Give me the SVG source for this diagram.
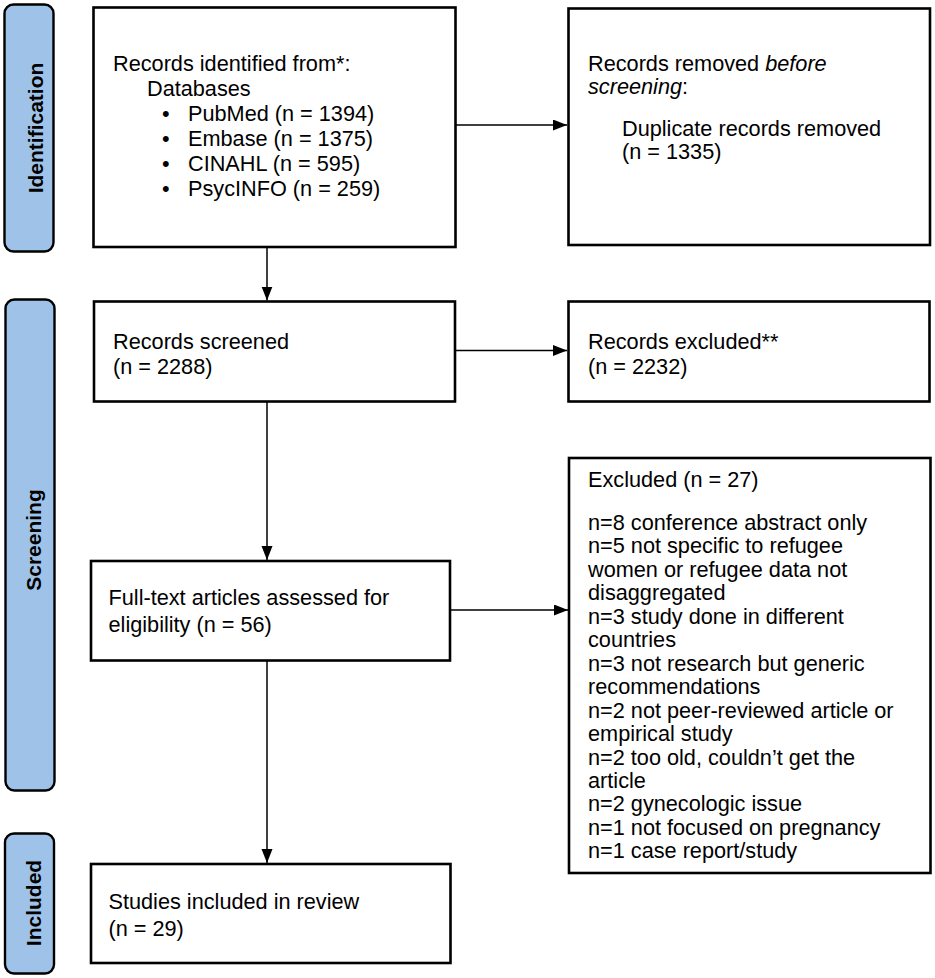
<svg xmlns="http://www.w3.org/2000/svg" width="935" height="978" viewBox="0 0 935 978">
<style>
.box{fill:#fff;stroke:#000;stroke-width:2.6}
.bar{fill:#9fc3e8;stroke:#000;stroke-width:2.4}
.t{font-family:"Liberation Sans",Arial,sans-serif;font-size:21.7px;fill:#000}
.bt{font-family:"Liberation Sans",Arial,sans-serif;font-size:21px;font-weight:bold;fill:#000;text-anchor:middle}
.c{stroke:#000;stroke-width:1.5;fill:none}
</style>
<defs>
<marker id="ah" markerUnits="userSpaceOnUse" markerWidth="15" markerHeight="12" refX="14" refY="5.5" orient="auto">
<path d="M0,0 L14,5.5 L0,11 Z" fill="#000"/>
</marker>
</defs>
<rect width="935" height="978" fill="#fff"/>
<g id="bar-identification">
<rect class="bar" x="4.5" y="4.5" width="49" height="247" rx="9"/>
<text class="bt" transform="translate(43,128) rotate(-90)">Identification</text>
</g>
<g id="bar-screening">
<rect class="bar" x="5.5" y="299.5" width="49" height="491" rx="9"/>
<text class="bt" transform="translate(41,540) rotate(-90)">Screening</text>
</g>
<g id="bar-included">
<rect class="bar" x="5" y="833.5" width="49" height="140" rx="9"/>
<text class="bt" transform="translate(41,903) rotate(-90)">Included</text>
</g>
<g id="connectors">
<line class="c" x1="456" y1="125" x2="567" y2="125" marker-end="url(#ah)"/>
<line class="c" x1="455" y1="350.5" x2="567" y2="350.5" marker-end="url(#ah)"/>
<line class="c" x1="450" y1="610" x2="568" y2="610" marker-end="url(#ah)"/>
<line class="c" x1="267" y1="247" x2="267" y2="300.5" marker-end="url(#ah)"/>
<line class="c" x1="267" y1="402" x2="267" y2="560" marker-end="url(#ah)"/>
<line class="c" x1="267" y1="661" x2="267" y2="863" marker-end="url(#ah)"/>
</g>
<g id="node-identified">
<rect class="box" x="93.5" y="7.5" width="362" height="239.5"/>
<text class="t" x="113" y="70.5">Records identified from*:</text>
<text class="t" x="147" y="95.5">Databases</text>
<text class="t" y="120.5"><tspan x="162">•</tspan><tspan x="188">PubMed (n = 1394)</tspan></text>
<text class="t" y="145.5"><tspan x="162">•</tspan><tspan x="188">Embase (n = 1375)</tspan></text>
<text class="t" y="170.5"><tspan x="162">•</tspan><tspan x="188">CINAHL (n = 595)</tspan></text>
<text class="t" y="195.5"><tspan x="162">•</tspan><tspan x="188">PsycINFO (n = 259)</tspan></text>
</g>
<g id="node-removed">
<rect class="box" x="568.5" y="8.5" width="361.5" height="236.5"/>
<text class="t" x="588" y="70.5">Records removed <tspan font-style="italic">before</tspan></text>
<text class="t" x="588" y="93.5"><tspan font-style="italic">screening</tspan>:</text>
<text class="t" x="622" y="135.5">Duplicate records removed</text>
<text class="t" x="622" y="158.5">(n = 1335)</text>
</g>
<g id="node-screened">
<rect class="box" x="94" y="301.5" width="361" height="100"/>
<text class="t" x="113" y="348.5">Records screened</text>
<text class="t" x="113" y="373.5">(n = 2288)</text>
</g>
<g id="node-excluded">
<rect class="box" x="568.5" y="301.5" width="361" height="100"/>
<text class="t" x="588" y="348.5">Records excluded**</text>
<text class="t" x="588" y="374">(n = 2232)</text>
</g>
<g id="node-fulltext">
<rect class="box" x="91" y="561" width="359" height="99.5"/>
<text class="t" x="108.5" y="605">Full-text articles assessed for</text>
<text class="t" x="108.5" y="631.5">eligibility (n = 56)</text>
</g>
<g id="node-excluded-fulltext">
<rect class="box" x="569" y="458" width="361.5" height="415"/>
<text class="t" x="588" y="486.5">Excluded (n = 27)</text>
<text class="t" x="588" y="530">n=8 conference abstract only</text>
<text class="t" x="588" y="553.4">n=5 not specific to refugee</text>
<text class="t" x="588" y="576.9">women or refugee data not</text>
<text class="t" x="588" y="600.3">disaggregated</text>
<text class="t" x="588" y="623.8">n=3 study done in different</text>
<text class="t" x="588" y="647.2">countries</text>
<text class="t" x="588" y="670.7">n=3 not research but generic</text>
<text class="t" x="588" y="694.1">recommendations</text>
<text class="t" x="588" y="717.6">n=2 not peer-reviewed article or</text>
<text class="t" x="588" y="741">empirical study</text>
<text class="t" x="588" y="764.5">n=2 too old, couldn’t get the</text>
<text class="t" x="588" y="787.9">article</text>
<text class="t" x="588" y="811.4">n=2 gynecologic issue</text>
<text class="t" x="588" y="834.8">n=1 not focused on pregnancy</text>
<text class="t" x="588" y="858.3">n=1 case report/study</text>
</g>
<g id="node-included">
<rect class="box" x="91" y="864" width="359.5" height="99"/>
<text class="t" x="108.5" y="909">Studies included in review</text>
<text class="t" x="108.5" y="936">(n = 29)</text>
</g>
</svg>
